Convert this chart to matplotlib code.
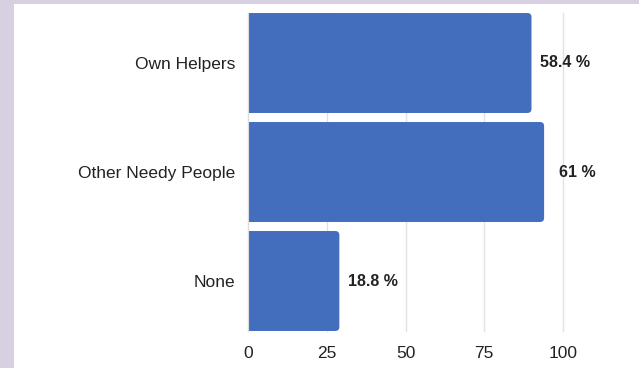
import matplotlib.pyplot as plt
from matplotlib.patches import FancyBboxPatch, Rectangle

categories = ['Own Helpers', 'Other Needy People', 'None']
counts = [90, 94, 29]
pct_labels = ['58.4 %', '61 %', '18.8 %']
xticks = [0, 25, 50, 75, 100]

bar_color = '#436EBD'
plt.rcParams['font.family'] = ['Liberation Sans', 'DejaVu Sans']

fig = plt.figure(figsize=(6.39, 3.68), dpi=100)
fig.patch.set_facecolor('#d9cfe3')
# white panel
fig.patches.append(Rectangle((14 / 639, 0), 1, 1 - 4 / 368, transform=fig.transFigure,
                             facecolor='white', edgecolor='none', zorder=-10))

ax = fig.add_axes([248 / 639, 1 - 331 / 368, (563 - 248) / 639, (331 - 13) / 368])
ax.set_facecolor('none')
ax.set_zorder(5)

ypos = list(range(len(categories)))
bars = ax.barh(ypos, counts, height=0.917, color=bar_color)

# swap plain bars for ones with rounded ends
r = 1.3
aspect = (315 / 100) / (318 / 2.917)
for b in bars:
    x, y, w, h = b.get_x(), b.get_y(), b.get_width(), b.get_height()
    b.set_visible(False)
    p = FancyBboxPatch((x - 3, y), w + 3, h,
                       boxstyle=f'round,pad=0,rounding_size={r}',
                       mutation_aspect=aspect, facecolor=bar_color,
                       edgecolor='none', zorder=2)
    ax.add_patch(p)

for b, lab in zip(bars, pct_labels):
    ax.annotate(lab, (b.get_width(), b.get_y() + b.get_height() / 2),
                xytext=(24, 0), textcoords='offset points',
                ha='center', va='center', fontsize=11.5, fontweight='bold',
                color='#222222')

ax.set_xlim(0, 100)
ax.set_ylim(len(categories) - 1 + 0.4587, -0.4587)
ax.set_xticks(xticks)
ax.set_yticks(ypos)
ax.set_yticklabels(categories)
ax.tick_params(axis='both', length=0, labelsize=12.5, colors='#222222')
ax.tick_params(axis='y', pad=9)
ax.tick_params(axis='x', pad=10.5)
ax.grid(axis='x', color='#e2e2e2', linewidth=1, zorder=0)
for gl in ax.get_xgridlines():
    gl.set_clip_on(False)
ax.set_axisbelow(True)
for s in ['top', 'right', 'bottom']:
    ax.spines[s].set_visible(False)
ax.spines['left'].set_color('#dddddd')

plt.savefig('out.png', dpi=100)
